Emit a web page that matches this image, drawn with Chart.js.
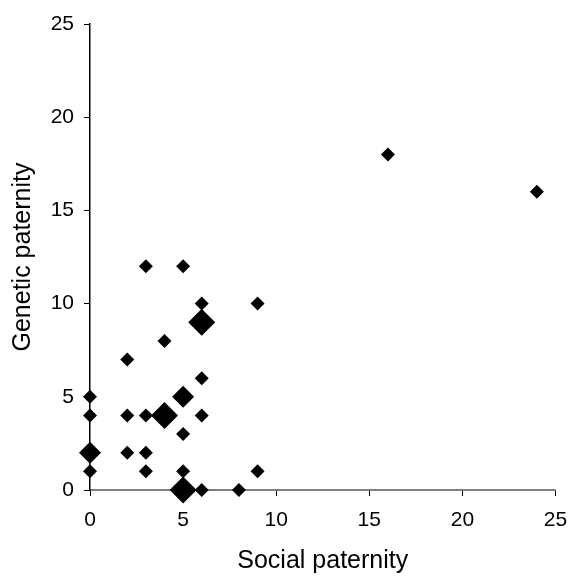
<!DOCTYPE html>
<html>
<head>
<meta charset="utf-8">
<script src="https://cdn.jsdelivr.net/npm/chart.js@4.4.1/dist/chart.umd.min.js"></script>
<style>
  html, body { margin: 0; padding: 0; background: #fff; }
  #wrap { width: 569px; height: 576px; position: relative; }
</style>
</head>
<body>
<div id="wrap"><canvas id="paternity"></canvas></div>
<script>
// males scored by social vs genetic paternity; n = males sharing the same pair of values
const socialPaternity = [3, 5, 6, 9, 6, 4, 2, 6, 0, 5, 0, 2, 3, 4, 6, 5, 0, 2, 3, 0, 3, 5, 9, 5, 6, 8, 16, 24];
const geneticPaternity = [12, 12, 10, 10, 9, 8, 7, 6, 5, 5, 4, 4, 4, 4, 4, 3, 2, 2, 2, 1, 1, 1, 1, 0, 0, 0, 18, 16];
const males = [1, 1, 1, 1, 3, 1, 1, 1, 1, 2, 1, 1, 1, 3, 1, 1, 2, 1, 1, 1, 1, 1, 1, 3, 1, 1, 1, 1];
const axisTicks = [0, 5, 10, 15, 20, 25];

const markerRadius = { 1: 7, 2: 11, 3: 13.5 };

const points = socialPaternity.map((x, i) => ({ x, y: geneticPaternity[i], n: males[i] }));

const tickFont = { family: "'Liberation Sans', Arial, sans-serif", size: 21 };
const titleFont = { family: "'Liberation Sans', Arial, sans-serif", size: 25 };

const ctx = document.getElementById('paternity').getContext('2d');

new Chart(ctx, {
  type: 'scatter',
  data: {
    datasets: [{
      data: points,
      pointStyle: 'rectRot',
      backgroundColor: '#000',
      borderColor: '#000',
      borderWidth: 0,
      pointRadius: (c) => markerRadius[c.raw.n],
      pointHoverRadius: (c) => markerRadius[c.raw.n],
      clip: false,
    }],
  },
  options: {
    responsive: true,
    maintainAspectRatio: false,
    animation: false,
    layout: {
      padding: { left: 0, right: 0, top: 24, bottom: 0 },
    },
    plugins: {
      legend: { display: false },
      tooltip: { enabled: false },
    },
    scales: {
      x: {
        type: 'linear',
        min: 0,
        max: 25,
        afterBuildTicks: (axis) => { axis.ticks = axisTicks.map((v) => ({ value: v })); },
        afterFit: (axis) => {
          axis.height = 86;
          axis.paddingLeft = 0;
          axis.paddingRight = 12;
        },
        border: { display: true, color: '#808080', width: 2 },
        grid: { drawOnChartArea: false, drawTicks: true, tickLength: 6, color: '#000' },
        ticks: { color: '#000', font: tickFont, padding: 12, maxRotation: 0 },
        title: {
          display: true,
          text: 'Social paternity',
          color: '#000',
          font: titleFont,
          padding: { top: 10, bottom: 0 },
        },
      },
      y: {
        type: 'linear',
        min: 0,
        max: 25,
        afterBuildTicks: (axis) => { axis.ticks = axisTicks.map((v) => ({ value: v })); },
        afterFit: (axis) => { axis.width = 90; },
        border: { display: true, color: '#000', width: 1.5 },
        grid: { drawOnChartArea: false, drawTicks: true, tickLength: 6, color: '#000' },
        ticks: { color: '#000', font: tickFont, padding: 10 },
        title: {
          display: true,
          text: 'Genetic paternity',
          color: '#000',
          font: titleFont,
          padding: { top: 8, bottom: 0 },
        },
      },
    },
  },
});
</script>
</body>
</html>
